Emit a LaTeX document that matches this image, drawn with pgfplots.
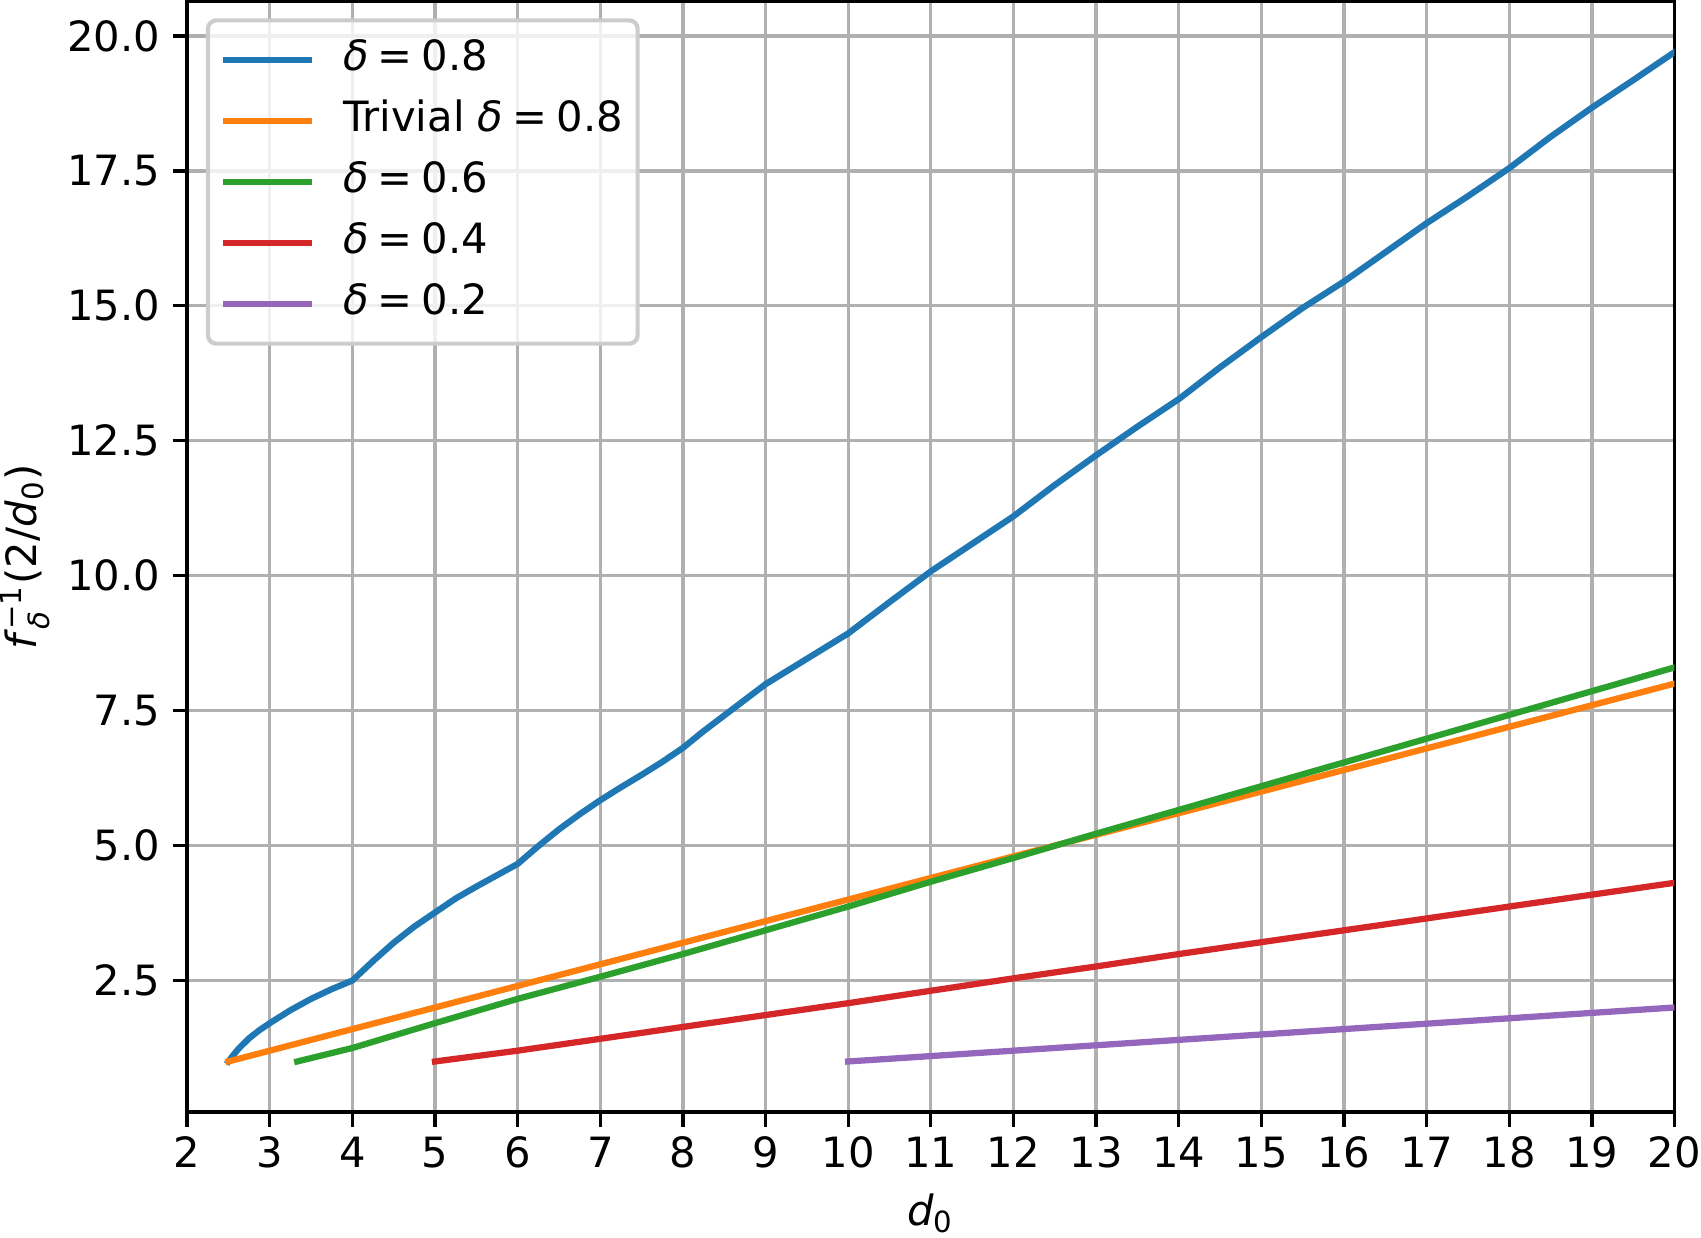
\documentclass[border=0pt]{standalone}
\usepackage{fontspec}
\setmainfont{DejaVu Sans}
\usepackage{amsmath}
\usepackage{pgfplots}
\pgfplotsset{compat=1.18}
\definecolor{c0}{HTML}{1F77B4}
\definecolor{c1}{HTML}{FF7F0E}
\definecolor{c2}{HTML}{2CA02C}
\definecolor{c3}{HTML}{D62728}
\definecolor{c4}{HTML}{9467BD}
\definecolor{gridgray}{HTML}{B0B0B0}
\newcommand{\deq}{\textit{δ}\hspace{0.22em}=\hspace{0.22em}}
\begin{document}
\begin{tikzpicture}
\begin{axis}[
  scale only axis,
  width=356.6pt, height=266.2pt,
  xmin=2, xmax=20, ymin=0.065, ymax=20.635,
  xtick={2,3,...,20}, ytick={2.5,5,7.5,10,12.5,15,17.5,20},
  /pgf/number format/assume math mode=true,
  xticklabel style={anchor=north, inner sep=0pt, yshift=-2.3pt},
  yticklabel style={anchor=east, inner sep=0pt, xshift=-2.8pt},
  y tick label style={/pgf/number format/fixed, /pgf/number format/fixed zerofill, /pgf/number format/precision=1},
  xtick pos=bottom, ytick pos=left,
  tick align=outside,
  major tick length=3.5pt,
  every tick/.style={black, line width=0.8pt},
  axis line style={line width=0.8pt},
  grid=major,
  major grid style={line width=0.8pt, color=gridgray},
  xlabel={\textit{d}$_{\text{0}}$},
  ylabel={\textit{f}$^{\text{−1}}_{\textit{δ}}$(2/\textit{d}$_{\text{0}}$)},
  xlabel style={at={(axis description cs:0.5,0)}, anchor=center, inner sep=1pt, yshift=-24.3pt},
  ylabel style={at={(axis description cs:-0.109,0.5)}, anchor=center, inner sep=0pt},
  legend cell align=left,
  legend style={at={(0,1)}, anchor=north west, xshift=4.5pt, yshift=-4pt,
    draw=black!20, line width=1pt, fill=white, fill opacity=0.8, text opacity=1,
    rounded corners=2pt, inner xsep=3.5pt, inner ysep=4.75pt, row sep=5pt, column sep=7.4pt,
    nodes={inner sep=0pt, text height=7.3pt, text depth=2.3pt}},
  legend image code/.code={\draw[line width=1.5pt, line cap=rect] (0pt,0pt) -- (20pt,0pt);},
  every axis plot/.append style={line width=1.5pt, line join=round, line cap=rect},
]
\addplot[c0] coordinates {
(2.5,1.0) (2.56,1.12) (2.625,1.24) (2.75,1.43) (2.875,1.58) (3,1.71) (3.25,1.95)
(3.5,2.16) (3.75,2.34) (4,2.5) (4.25,2.86) (4.5,3.2) (4.75,3.5) (5,3.76)
(5.25,4.02) (5.5,4.24) (5.75,4.45) (6,4.66) (6.25,4.99) (6.5,5.3) (6.75,5.58)
(7,5.84) (7.25,6.08) (7.5,6.31) (7.75,6.55) (8,6.81) (8.25,7.12) (8.5,7.41)
(9,7.99) (9.5,8.46)
(10,8.93) (10.5,9.51) (11,10.08) (11.5,10.59) (12,11.1) (12.5,11.68) (13,12.23)
(13.5,12.76) (14,13.27) (14.5,13.86) (15,14.42) (15.5,14.96) (16,15.45)
(16.5,15.99) (17,16.53) (17.5,17.03) (18,17.55) (18.5,18.13) (19,18.67)
(19.5,19.18) (20,19.7)};
\addlegendentry{\deq 0.8}
\addplot[c1] coordinates {(2.5,1.0) (20,8.0)};
\addlegendentry{Trivial \deq 0.8}
\addplot[c2] coordinates {
(3.333,1.0) (4,1.25) (5,1.71) (6,2.16) (7,2.57) (8,2.99) (9,3.43) (10,3.87)
(11,4.33) (12,4.77) (13,5.22) (14,5.66) (15,6.1) (16,6.54) (17,6.98) (18,7.42)
(19,7.86) (20,8.3)};
\addlegendentry{\deq 0.6}
\addplot[c3] coordinates {
(5,1.0) (6,1.2) (7,1.42) (8,1.64) (9,1.86) (10,2.08) (11,2.31) (12,2.54)
(13,2.76) (14,2.99) (15,3.21) (16,3.43) (17,3.65) (18,3.87) (19,4.09) (20,4.31)};
\addlegendentry{\deq 0.4}
\addplot[c4] coordinates {(10,1.0) (11,1.1) (12,1.2) (13,1.3) (14,1.4) (15,1.5) (16,1.6) (17,1.7) (18,1.8) (19,1.9) (20,2.0)};
\addlegendentry{\deq 0.2}
\end{axis}
\end{tikzpicture}
\end{document}
